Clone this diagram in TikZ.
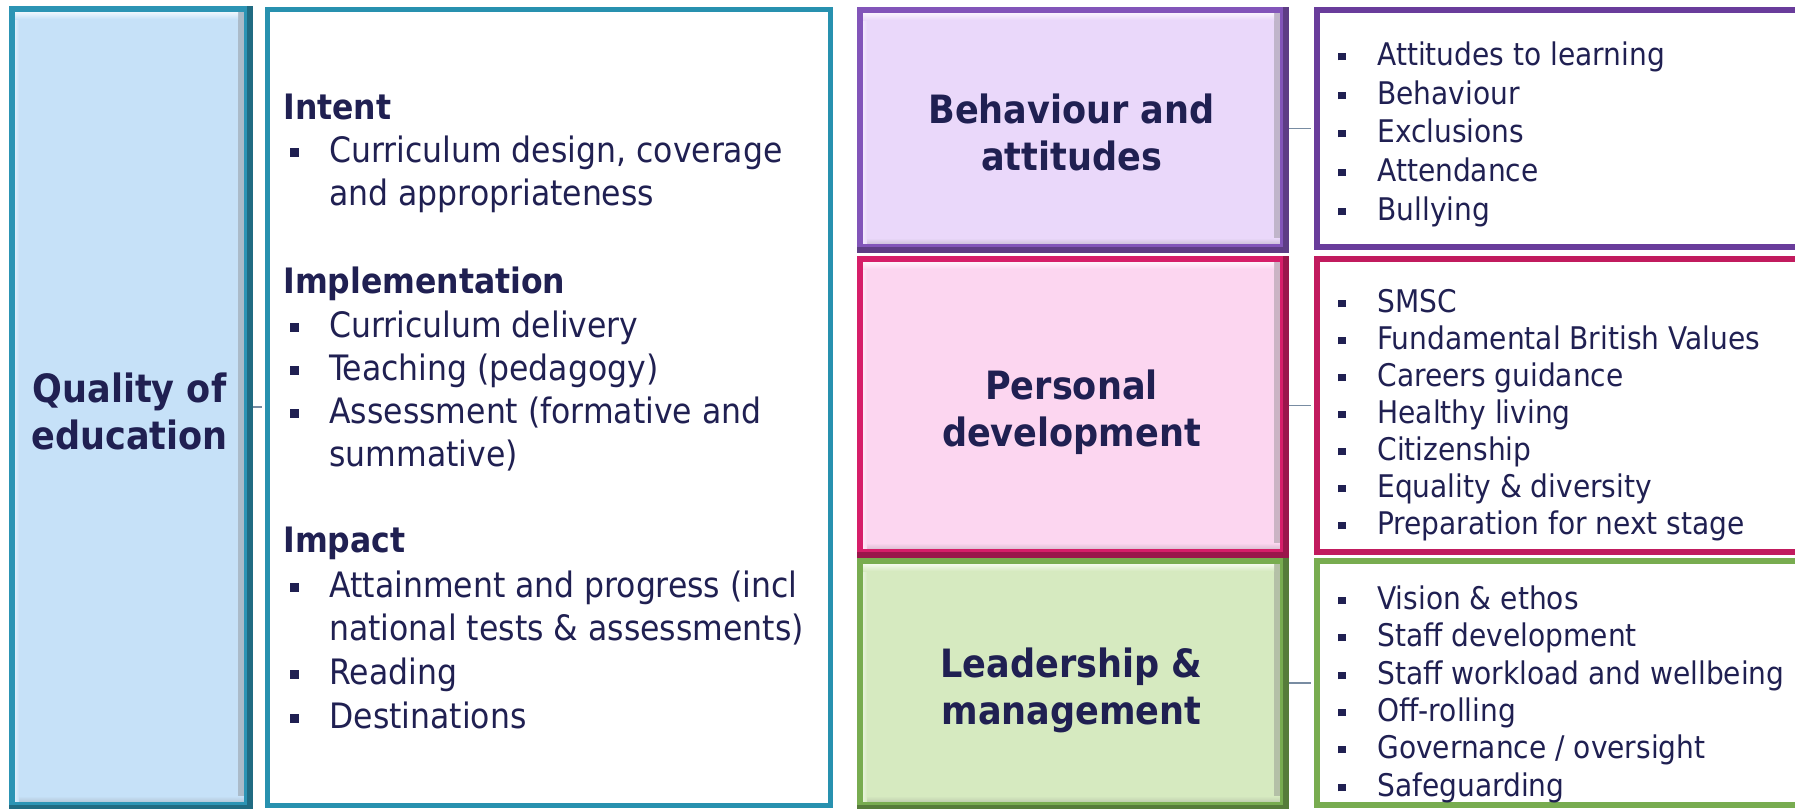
\documentclass[tikz,border=0pt]{standalone}
\usepackage{fontspec}
\setmainfont{DejaVu Sans Condensed}
\usetikzlibrary{shadows}

\definecolor{txt}{RGB}{32,32,82}
\definecolor{link}{RGB}{120,140,162}
\definecolor{qborder}{RGB}{44,148,180}
\definecolor{qfill}{RGB}{198,225,248}
\definecolor{mborder}{RGB}{40,145,175}
\definecolor{bborder}{RGB}{130,85,185}
\definecolor{bfill}{RGB}{234,216,250}
\definecolor{blborder}{RGB}{105,60,155}
\definecolor{pborder}{RGB}{214,30,105}
\definecolor{pfill}{RGB}{252,214,240}
\definecolor{lborder}{RGB}{120,172,80}
\definecolor{lfill}{RGB}{214,234,192}

% square bullet followed by the hanging indent
\newcommand\sqbul{\makebox[19.5pt][l]{\raisebox{0.15em}{\rule{0.24em}{0.24em}}}}
\newcommand\sqgap{\hspace*{19.5pt}}

\begin{document}
\begin{tikzpicture}[x=0.5pt,y=-0.5pt,
  every node/.style={text=txt, inner sep=0pt},
  titlebox/.style 2 args={draw=#1, fill=#2, line width=3pt,
    drop shadow={shadow xshift=1.5pt, shadow yshift=-1.5pt, opacity=0.25, fill=black!60},
    path picture={
      \shade[left color=#2, right color=#2!60!gray]
        ([xshift=-4.5pt]path picture bounding box.north east) rectangle (path picture bounding box.south east);
      \shade[top color=#2, bottom color=#2!60!gray]
        ([yshift=4.5pt]path picture bounding box.south west) rectangle (path picture bounding box.south east);
      \shade[left color=white!70!#2, right color=#2]
        (path picture bounding box.north west) rectangle ([xshift=3.5pt]path picture bounding box.south west);
      \shade[top color=white, bottom color=#2]
        (path picture bounding box.north west) rectangle ([xshift=-4.5pt, yshift=-5pt]path picture bounding box.north east);
    }},
  titletext/.style={align=center, font=\fontsize{19.5}{23.5}\selectfont\bfseries},
  listbox/.style={draw=#1, fill=white, line width=3pt},
  body/.style={anchor=base west, font=\fontsize{17.5}{21}\selectfont},
  item/.style={anchor=base west, font=\fontsize{15.6}{18.5}\selectfont},
  link/.style={draw=link, line width=0.8pt, shorten <=1.5pt, shorten >=1.5pt}]

\useasboundingbox (0,0) rectangle (1795,809);
\clip (0,0) rectangle (1795,809);
\fill[white] (0,0) rectangle (1795,809);

% ---- left column: quality of education ----
\node[titlebox={qborder}{qfill}, minimum width=117.5pt, minimum height=398pt]
  (qual) at (129.5,407) {};
\node[draw=mborder, fill=white, line width=2.5pt, minimum width=281.5pt, minimum height=398pt]
  (frame) at (549,407) {};

\node[body] (intent) at (283,119) {\bfseries Intent};
\node[body] (q1) at (290,162) {\sqbul Curriculum design, coverage};
\node[body] (q1b) at (290,205) {\sqgap and appropriateness};
\node[body] (impl) at (283,293) {\bfseries Implementation};
\node[body] (q2) at (290,337) {\sqbul Curriculum delivery};
\node[body] (q3) at (290,380) {\sqbul Teaching (pedagogy)};
\node[body] (q4) at (290,423) {\sqbul Assessment (formative and};
\node[body] (q4b) at (290,466) {\sqgap summative)};
\node[body] (impact) at (283,552) {\bfseries Impact};
\node[body] (q5) at (290,597) {\sqbul Attainment and progress (incl};
\node[body] (q5b) at (290,640) {\sqgap national tests \& assessments)};
\node[body] (q6) at (290,684) {\sqbul Reading};
\node[body] (q7) at (290,728) {\sqbul Destinations};

% ---- right column: the three judgement areas ----
\node[titlebox={bborder}{bfill}, minimum width=211.5pt, minimum height=118.5pt]
  (beh) at (1071.5,128.5) {};
\node[titlebox={pborder}{pfill}, minimum width=211.5pt, minimum height=146.5pt]
  (pers) at (1071.5,405.5) {};
\node[titlebox={lborder}{lfill}, minimum width=211.5pt, minimum height=122pt]
  (lead) at (1071.5,683) {};

% darker right and bottom edges of the raised boxes
\foreach \n/\c in {qual/qborder, beh/bborder, pers/pborder, lead/lborder}
  \draw[\c!72!black, line width=3pt, line cap=butt, line join=miter]
    (\n.north east) -- (\n.south east) -- (\n.south west);

\node[titletext] (qualt) at ([yshift=-2pt]qual.center) {Quality of\\education};
\node[titletext] (beht) at ([yshift=-2pt]beh.center) {Behaviour and\\attitudes};
\node[titletext] (perst) at ([yshift=-3.5pt]pers.center) {Personal\\development};
\node[titletext] (leadt) at ([yshift=-3.5pt]lead.center) {Leadership \&\\management};

\node[listbox=blborder, minimum width=257pt, minimum height=118.5pt] (behlist) at (1574,128.5) {};
\node[listbox=pborder!90!black, minimum width=257pt, minimum height=146.5pt] (perslist) at (1574,405.5) {};
\node[listbox=lborder, minimum width=257pt, minimum height=122pt] (leadlist) at (1574,683) {};

\node[item] (b1) at (1338,65) {\sqbul Attitudes to learning};
\node[item] (b2) at (1338,104) {\sqbul Behaviour};
\node[item] (b3) at (1338,142) {\sqbul Exclusions};
\node[item] (b4) at (1338,181) {\sqbul Attendance};
\node[item] (b5) at (1338,220) {\sqbul Bullying};

\node[item] (p1) at (1338,312) {\sqbul SMSC};
\node[item] (p2) at (1338,349) {\sqbul Fundamental British Values};
\node[item] (p3) at (1338,386) {\sqbul Careers guidance};
\node[item] (p4) at (1338,423) {\sqbul Healthy living};
\node[item] (p5) at (1338,460) {\sqbul Citizenship};
\node[item] (p6) at (1338,497) {\sqbul Equality \& diversity};
\node[item] (p7) at (1338,534) {\sqbul Preparation for next stage};

\node[item] (l1) at (1338,609) {\sqbul Vision \& ethos};
\node[item] (l2) at (1338,646) {\sqbul Staff development};
\node[item] (l3) at (1338,684) {\sqbul Staff workload and wellbeing};
\node[item] (l4) at (1338,721) {\sqbul Off-rolling};
\node[item] (l5) at (1338,758) {\sqbul Governance / oversight};
\node[item] (l6) at (1338,796) {\sqbul Safeguarding};

% ---- connectors ----
\draw[link] (qual.east) -- (frame.west);
\draw[link] (beh.east) -- (behlist.west);
\draw[link] (pers.east) -- (perslist.west);
\draw[link] (lead.east) -- (leadlist.west);
\end{tikzpicture}
\end{document}
